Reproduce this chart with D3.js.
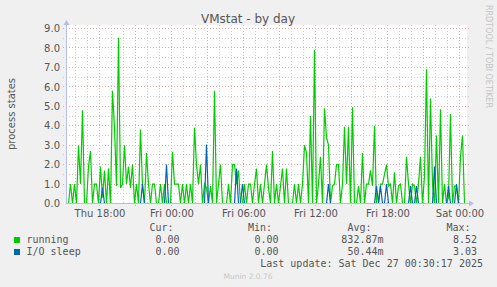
<!DOCTYPE html>
<html>
<head>
<meta charset="utf-8">
<script src="https://d3js.org/d3.v7.min.js"></script>
<style>
  body { margin: 0; background: #f0f0f0; }
</style>
</head>
<body>
<div id="chart"></div>
<script>
// samples every 10 minutes, starting Thu 25 Dec 15:15
var startTime = Date.UTC(2025, 11, 25, 15, 15);
var spanMinutes = 2000;
var stepMinutes = 10;

var running = [
  0, 0, 1, 0, 1, 0, 3, 1, 4.8, 0,
  0, 1.9, 2.7, 0, 1, 1, 0, 1.9, 0.3, 1.7,
  0, 1.8, 0, 5.8, 3.9, 0.9, 8.52, 0.8, 1, 3,
  1, 1.9, 0.8, 2, 0, 1, 0, 3.8, 0.9, 0,
  2.6, 1, 0, 1, 1, 0, 0, 1, 0, 1,
  0, 0, 0, 2.65, 1, 1, 1, 0, 1, 0,
  1, 0, 1, 0, 3.9, 2, 1, 2, 0, 1,
  0.8, 0, 0.9, 0, 5.8, 0, 1, 2, 0, 0,
  0, 1, 0, 2, 2, 1, 1.7, 0, 0, 1,
  0, 1, 1, 0, 1, 1.8, 0, 1, 0, 1,
  2, 0.8, 0, 2.7, 0, 1, 0, 0.9, 1.8, 0,
  1.8, 0, 0, 0, 1, 0, 1, 0, 1, 3,
  2.6, 0, 4.5, 0, 7.9, 0, 1, 2.4, 0, 4.9,
  3.4, 3, 0, 0.9, 1, 2, 2, 0, 1, 3.95,
  1, 3.95, 0, 4.95, 0, 0, 0.9, 0, 2.6, 0,
  1, 1, 1.7, 0.9, 4, 0, 0, 1, 1, 1.5,
  2, 0.9, 1, 0, 1.6, 0, 0.9, 1, 0, 0,
  2.4, 1, 0, 1, 0.9, 0, 1, 2.4, 0, 1.4,
  6.9, 0, 5.4, 1, 0, 3.5, 0, 4.85, 0, 1,
  0, 0.3, 4.6, 0, 0.9, 0.9, 0, 2.4, 3.5, 0
];

var ioSleep = [
  0, 0, 0, 0, 0, 0, 0, 0, 0, 0,
  0, 0, 0, 0, 0, 0, 0, 0, 0.8, 0,
  0, 0, 0, 0, 0, 0, 0, 0, 0, 0,
  0, 0, 0, 0, 0, 0, 0, 0, 1, 0,
  0, 0, 0, 0, 0, 0, 0, 0, 0, 0,
  2, 0, 0, 0, 0, 0, 0, 0, 0, 0,
  0, 0, 0, 0, 0, 0, 0, 0, 0, 0,
  3.03, 0, 0, 0, 0, 0, 0, 0, 0, 0,
  0, 0, 0, 0, 0, 1.8, 0, 0, 1, 0,
  0, 0, 0, 0, 0, 0, 0, 0, 0, 0,
  0, 0, 0, 0, 0, 0, 0, 0, 0, 0,
  0, 0, 0, 0, 0, 0, 0, 0, 0, 0,
  0, 0, 0, 0, 0, 0, 0, 0, 0, 0,
  0, 1, 0, 0, 0, 0, 0, 0, 0, 0,
  0, 0, 0, 0, 0, 0, 0, 0, 0, 0,
  0, 0, 0, 0, 0, 0.9, 0, 0.9, 0, 0,
  1, 0, 0, 0, 0, 0, 0, 0, 0, 0,
  0, 0, 0.9, 0, 0, 0.9, 0, 0, 0, 0,
  0, 0, 0, 0, 1.9, 0, 0, 0, 0, 0,
  0, 0.9, 0, 0, 0, 1, 0, 0, 0, 0
];

var seriesNames = ["running", "I/O sleep"];
var legendHeaders = ["Cur:", "Min:", "Avg:", "Max:"];
var curValues = ["0.00", "0.00"];
var minValues = ["0.00", "0.00"];
var avgValues = ["832.87m", "50.44m"];
var maxValues = ["8.52", "3.03"];
var lastUpdate = "Last update: Sat Dec 27 00:30:17 2025";

var colors = ["#00cc00", "#0066b3"];
var sans = "'DejaVu Sans', sans-serif";
var mono = "'DejaVu Sans Mono', monospace";

var width = 497, height = 287;
var plotLeft = 66.5, plotRight = 466.5, plotTop = 28.5, plotBottom = 203.5;

var svg = d3.select("#chart").append("svg")
    .attr("width", width)
    .attr("height", height);

svg.append("rect")
    .attr("width", width).attr("height", height)
    .attr("fill", "#f0f0f0");

// plot background
svg.append("rect")
    .attr("x", 66).attr("y", 25)
    .attr("width", 401).attr("height", 179)
    .attr("fill", "#ffffff");

var x = d3.scaleUtc()
    .domain([new Date(startTime), new Date(startTime + spanMinutes * 60000)])
    .range([plotLeft, plotRight]);
var y = d3.scaleLinear().domain([0, 9]).range([plotBottom, plotTop]);

var times = running.map(function (d, i) {
    return new Date(startTime + i * stepMinutes * 60000);
});

// grid: grey every hour / 0.5, red every 3 hours / 1.0
var grid = svg.append("g");
var hours = x.ticks(d3.utcHour.every(1));
hours.forEach(function (t) {
    var major = t.getUTCHours() % 3 == 0;
    var gx = Math.round(x(t) - 0.5) + 0.5;
    grid.append("line")
        .attr("x1", gx).attr("x2", gx)
        .attr("y1", 25).attr("y2", major ? 206 : 203)
        .attr("stroke", major ? "#e4a8a8" : "#cfcfcf")
        .attr("stroke-dasharray", "1,2");
});
d3.range(0.5, 9.01, 0.5).forEach(function (v) {
    var major = v % 1 == 0;
    var gy = Math.round(y(v) - 0.5) + 0.5;
    grid.append("line")
        .attr("x1", 63).attr("x2", 469)
        .attr("y1", gy).attr("y2", gy)
        .attr("stroke", major ? "#e4a8a8" : "#cfcfcf")
        .attr("stroke-dasharray", "1,2");
});

// series lines
var line = d3.line()
    .x(function (d, i) { return x(times[i]); })
    .y(function (d) { return y(d); });

svg.append("path")
    .attr("d", line(running))
    .attr("fill", "none")
    .attr("stroke", colors[0])
    .attr("stroke-width", 1.2);

svg.append("path")
    .attr("d", line(ioSleep))
    .attr("fill", "none")
    .attr("stroke", colors[1])
    .attr("stroke-width", 1.2);

// axis lines with arrows
var axisColor = "#b4bcf0";
svg.append("line")
    .attr("x1", plotLeft).attr("x2", plotLeft).attr("y1", 24).attr("y2", plotBottom)
    .attr("stroke", axisColor);
svg.append("line")
    .attr("x1", plotLeft).attr("x2", 469).attr("y1", plotBottom).attr("y2", plotBottom)
    .attr("stroke", axisColor);
svg.append("path")
    .attr("d", "M" + (plotLeft - 3) + ",25 L" + (plotLeft + 3) + ",25 L" + plotLeft + ",20 Z")
    .attr("fill", axisColor);
svg.append("path")
    .attr("d", "M469," + (plotBottom - 3) + " L469," + (plotBottom + 3) + " L474," + plotBottom + " Z")
    .attr("fill", axisColor);

// axis labels
var yAxis = svg.append("g")
    .attr("transform", "translate(" + plotLeft + ",0)")
    .call(d3.axisLeft(y).tickValues(d3.range(0, 9.01, 1)).tickFormat(d3.format(".1f"))
        .tickSize(0).tickPadding(6.5));
yAxis.select(".domain").remove();
yAxis.selectAll("text").attr("font-family", sans).attr("font-size", 10).attr("fill", "#555");

var xAxis = svg.append("g")
    .attr("transform", "translate(0," + plotBottom + ")")
    .call(d3.axisBottom(x).ticks(d3.utcHour.every(6)).tickFormat(d3.utcFormat("%a %H:%M"))
        .tickSize(0).tickPadding(6));
xAxis.select(".domain").remove();
xAxis.selectAll("text").attr("font-family", sans).attr("font-size", 10).attr("fill", "#555");

// title and side texts
svg.append("text")
    .attr("x", 248).attr("y", 22.5)
    .attr("text-anchor", "middle")
    .attr("font-family", sans).attr("font-size", 12)
    .attr("fill", "#555")
    .text("VMstat - by day");

svg.append("text")
    .attr("transform", "translate(14.5,114) rotate(-90)")
    .attr("text-anchor", "middle")
    .attr("font-family", sans).attr("font-size", 10)
    .attr("fill", "#555")
    .text("process states");

svg.append("text")
    .attr("transform", "translate(485.5,5) rotate(90)")
    .attr("font-family", sans).attr("font-size", 8)
    .attr("fill", "#c4c4c4")
    .text("RRDTOOL / TOBI OETIKER");

// legend
var headerX = [173.5, 272, 371.5, 470.5];
var valueX = [179.5, 278.5, 383.5, 477];
svg.selectAll(".hdr").data(legendHeaders).enter().append("text")
    .attr("x", function (d, i) { return headerX[i]; })
    .attr("y", 231)
    .attr("text-anchor", "end")
    .attr("font-family", mono).attr("font-size", 10)
    .attr("fill", "#555")
    .text(function (d) { return d; });

seriesNames.forEach(function (name, r) {
    var by = 243 + r * 12;
    svg.append("rect")
        .attr("x", 14).attr("y", by - 6)
        .attr("width", 6).attr("height", 6)
        .attr("fill", colors[r]);
    svg.append("text")
        .attr("x", 26.5).attr("y", by)
        .attr("font-family", mono).attr("font-size", 10)
        .attr("fill", "#555")
        .text(name);
    [curValues[r], minValues[r], avgValues[r], maxValues[r]].forEach(function (v, c) {
        svg.append("text")
            .attr("x", valueX[c]).attr("y", by)
            .attr("text-anchor", "end")
            .attr("font-family", mono).attr("font-size", 10)
            .attr("fill", "#555")
            .text(v);
    });
});

svg.append("text")
    .attr("x", 483).attr("y", 267)
    .attr("text-anchor", "end")
    .attr("font-family", mono).attr("font-size", 10)
    .attr("fill", "#555")
    .text(lastUpdate);

svg.append("text")
    .attr("x", 248).attr("y", 279)
    .attr("text-anchor", "middle")
    .attr("font-family", sans).attr("font-size", 7.5)
    .attr("fill", "#c8c8c8")
    .text("Munin 2.0.76");
</script>
</body>
</html>
